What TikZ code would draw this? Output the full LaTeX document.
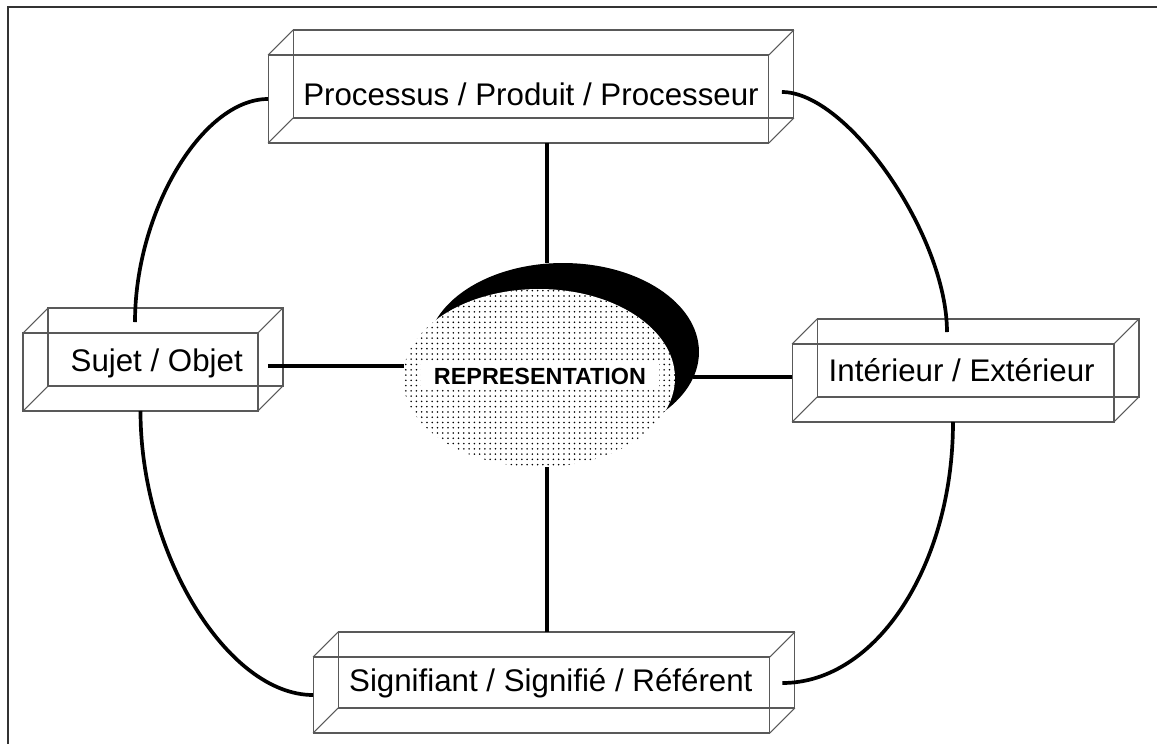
\documentclass[tikz,border=0pt]{standalone}
\usepackage{fontspec}
\setmainfont{Liberation Sans}
\usetikzlibrary{calc, shapes.geometric, patterns, positioning}

\tikzset{
  face/.style={draw=black!65, line width=0.6pt, inner sep=0pt, outer sep=0pt},
  arete/.style={draw=black!65, line width=0.6pt},
  lien/.style={line width=2.1pt},
  etiq/.style={font=\fontsize{17.8}{20}\selectfont, anchor=base, inner sep=0pt},
  ovale/.style={ellipse, minimum width=5.44cm, minimum height=3.56cm, inner sep=0pt, outer sep=0pt},
}

% boite en fil de fer : nom, centre, largeur, hauteur
\newcommand{\boite}[4]{%
  \node[face, minimum width=#3, minimum height=#4] (#1) at #2 {};
  \node[face, minimum width=#3, minimum height=#4, xshift=0.5cm, yshift=0.5cm] (#1-b) at #2 {};
  \foreach \coin in {north west, north east, south west, south east}
    \draw[arete] (#1.\coin) -- (#1-b.\coin);
}

\begin{document}
\begin{tikzpicture}[x=0.02cm, y=-0.02cm]
  \useasboundingbox (0,0) rectangle (1157,744);
  \draw[line width=1.2pt, black!80] (8,744) -- (8,7) -- (1157,7);

  \boite{P}{(518.5,99)}{10.02cm}{1.76cm}
  \boite{S}{(140.5,372)}{4.7cm}{1.56cm}
  \boite{I}{(953,383)}{6.44cm}{1.56cm}
  \boite{R}{(541.5,695)}{9.14cm}{1.52cm}

  \node[etiq] (P-t) at (531,105) {Processus / Produit / Processeur};
  \node[etiq] (S-t) at (156.7,371.5) {Sujet / Objet};
  \node[etiq] (I-t) at (961.7,381.7) {Intérieur / Extérieur};
  \node[etiq] (R-t) at (550.8,691.7) {Signifiant / Signifié / Référent};

  \node[ovale, fill=black] (rep-s) at (563,352) {};
  \node[ovale, preaction={fill=white}, pattern=dots] (rep) at (539,378) {};
  \node[font=\bfseries\fontsize{13.3}{15}\selectfont, fill=white, anchor=base,
        inner xsep=0.25cm, inner ysep=0.1cm] (rep-t) at (540,384) {REPRESENTATION};

  \coordinate (c) at (547,378);

  \draw[lien]
    (P.south -| c) -- (rep-s.north -| c)
    (rep.south -| c) -- (R-b.north -| c)
    ($(rep.175 -| S.east)+(10,0)$) -- (rep.175)
    (rep-s.-11) -- (rep-s.-11 -| I.west);

  \draw[lien] (P.west) .. controls +(-66,0) and +(0,-110) .. ($(S.north)+(-5.5,-11)$);
  \draw[lien] ($(P.east)+(13,-7)$) .. controls +(66,0) and +(0,-96) .. ($(I.north)+(-6,-12)$);
  \draw[lien] (S.south) .. controls +(0,142) and +(-86,0) .. (R.west);
  \draw[lien] (I.south) .. controls +(0,143) and +(94,0) .. ($(R.east)+(12.5,-12)$);
\end{tikzpicture}
\end{document}
